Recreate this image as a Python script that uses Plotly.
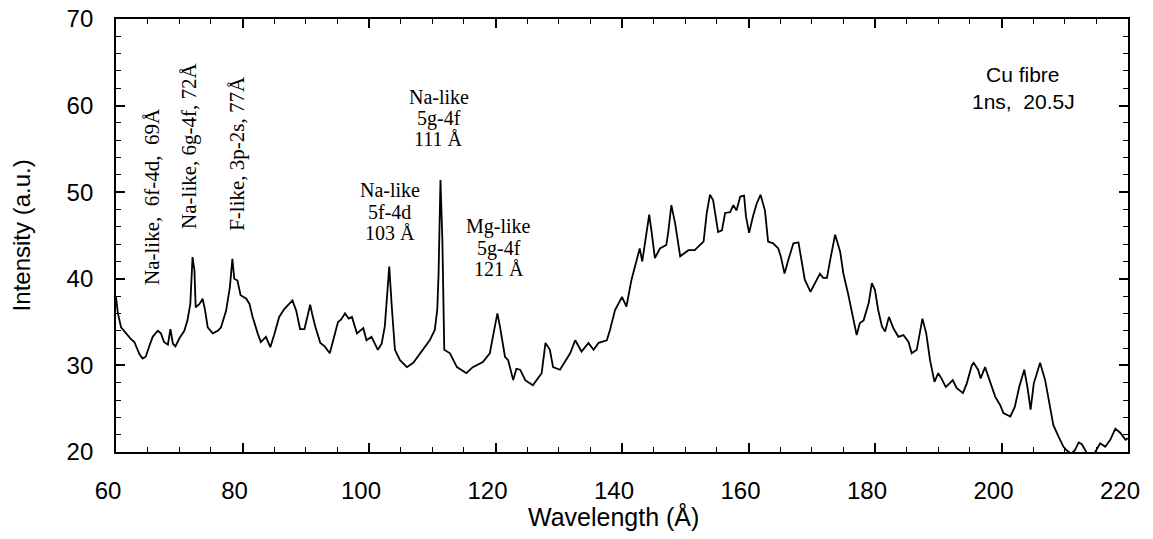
import plotly.graph_objects as go

wavelength = [
    60.0, 60.3, 60.8, 61.6, 62.3, 62.9, 63.7, 64.2, 64.7, 65.3, 65.8, 66.6, 67.1, 67.6, 68.2, 68.6,
    69.0, 69.4, 70.0, 70.8, 71.3, 71.75, 72.1, 72.4, 72.6, 73.2, 73.7, 74.1, 74.5, 75.3, 76.1, 76.6,
    77.4, 78.0, 78.4, 78.7, 79.2, 79.7, 80.6, 81.1, 81.6, 82.4, 82.9, 83.7, 84.4, 85.0, 85.8, 86.6,
    87.4, 87.9, 88.5, 89.1, 89.8, 90.3, 90.7, 91.0, 91.5, 92.3, 93.0, 93.8, 94.3, 95.1, 95.6, 96.2,
    96.8, 97.3, 98.1, 99.1, 99.6, 100.4, 101.4, 102.0, 102.5, 102.9, 103.2, 103.6, 104.1, 104.9,
    106.0, 107.0, 108.5, 109.6, 110.4, 110.8, 111.0, 111.3, 111.6, 111.9, 112.8, 113.9, 115.4,
    116.4, 118.0, 119.1, 119.9, 120.3, 120.7, 121.5, 122.0, 122.8, 123.3, 123.9, 124.7, 125.9,
    127.3, 127.9, 128.6, 129.1, 130.2, 131.0, 131.8, 132.6, 133.6, 134.7, 135.5, 136.3, 137.6,
    138.1, 138.9, 140.0, 140.7, 141.5, 142.3, 142.8, 143.2, 143.8, 144.3, 144.7, 145.2, 146.0,
    147.0, 147.3, 147.8, 148.4, 149.2, 150.5, 151.5, 152.3, 152.9, 153.4, 153.9, 154.4, 155.2,
    155.8, 156.3, 157.1, 157.6, 158.1, 158.7, 159.3, 159.6, 160.1, 160.7, 161.3, 161.9, 162.6,
    163.1, 163.9, 164.7, 165.1, 165.7, 166.3, 167.1, 167.9, 168.4, 168.9, 169.8, 170.8, 171.3,
    171.8, 172.4, 173.0, 173.7, 174.5, 175.0, 175.8, 176.6, 177.1, 177.6, 178.2, 179.0, 179.5,
    180.0, 180.5, 181.1, 181.6, 182.2, 182.9, 183.7, 184.5, 185.3, 185.8, 186.6, 187.5, 188.1,
    188.7, 189.4, 190.0, 190.5, 191.2, 192.3, 192.9, 193.9, 194.5, 195.3, 195.6, 196.3, 196.7,
    197.4, 198.2, 199.0, 199.8, 200.3, 201.4, 202.1, 202.8, 203.6, 204.1, 204.6, 205.1, 206.1,
    206.9, 207.7, 208.2, 209.0, 209.8, 210.3, 211.0, 211.6, 212.2, 212.7, 213.2, 213.8, 214.5,
    215.0, 215.6, 216.4, 217.2, 218.0, 218.8, 219.6, 220.0,
]
intensity = [
    37.9, 36.0, 34.4, 33.7, 33.1, 32.7, 31.3, 30.8, 31.0, 32.3, 33.3, 34.0, 33.7, 32.7, 32.4, 34.2,
    32.5, 32.2, 33.1, 34.0, 35.2, 37.1, 42.5, 41.0, 36.7, 37.1, 37.7, 36.3, 34.4, 33.7, 34.0, 34.4,
    36.3, 39.0, 42.3, 40.0, 39.8, 38.1, 37.7, 37.1, 35.6, 33.7, 32.7, 33.3, 32.1, 33.5, 35.6, 36.5,
    37.1, 37.5, 36.3, 34.2, 34.2, 35.8, 37.0, 36.0, 34.5, 32.6, 32.2, 31.4, 32.9, 35.0, 35.3, 36.0,
    35.4, 35.6, 33.7, 34.3, 32.9, 33.3, 31.8, 32.5, 34.5, 38.0, 41.4, 36.8, 31.8, 30.6,
    29.8, 30.3, 31.8, 32.9, 34.1, 36.5, 40.6, 51.4, 44.5, 31.8, 31.4, 29.8, 29.1,
    29.8, 30.4, 31.4, 34.5, 36.0, 34.5, 31.0, 30.6, 28.3, 29.6, 29.5, 28.3, 27.7,
    29.1, 32.6, 31.8, 29.8, 29.5, 30.5, 31.4, 32.9, 31.6, 32.6, 31.8, 32.6, 32.9,
    34.1, 36.4, 37.9, 36.8, 39.9, 42.2, 43.5, 42.0, 45.3, 47.4, 45.3, 42.4, 43.5,
    43.9, 45.3, 48.5, 46.4, 42.6, 43.3, 43.3, 43.9, 44.3, 47.6, 49.7, 49.1, 45.4,
    45.6, 47.6, 47.7, 48.5, 47.9, 49.5, 49.6, 47.2, 45.3, 47.2, 48.7, 49.7, 47.9,
    44.3, 44.1, 43.5, 42.6, 40.6, 42.2, 44.1, 44.2, 42.2, 39.9, 38.5, 39.9, 40.6,
    40.1, 40.1, 42.5, 45.1, 43.1, 40.6, 38.1, 35.4, 33.5, 34.9, 35.2, 37.2, 39.5,
    38.7, 36.4, 34.5, 33.9, 35.6, 34.3, 33.3, 33.5, 32.7, 31.4, 31.8, 35.4, 33.7,
    30.6, 28.1, 29.1, 28.5, 27.5, 28.3, 27.4, 26.8, 27.9, 30.0, 30.3, 29.5, 28.5,
    29.8, 28.1, 26.4, 25.4, 24.5, 24.1, 25.2, 27.5, 29.5, 27.5, 24.9, 27.9, 30.3,
    28.3, 25.2, 23.1, 21.8, 20.6, 20.2, 19.8, 20.2, 21.1, 20.9, 20.2, 19.5, 19.6,
    20.2, 21.0, 20.6, 21.4, 22.7, 22.2, 21.4, 21.6,
]

x_ticks = [60, 80, 100, 120, 140, 160, 180, 200, 220]
x_tick_labels = ["60", "80", "100", "120", "140", "160", "180", "200", "220"]
y_ticks = [20, 30, 40, 50, 60, 70]
x_title = "Wavelength (Å)"
y_title = "Intensity (a.u.)"

NB = "\u00a0"
vertical_labels = ["Na-like," + NB * 2 + "6f-4d," + NB * 2 + "69Å",
                   "Na-like, 6g-4f, 72Å",
                   "F-like, 3p-2s, 77Å"]
vertical_label_x = [65.7, 71.5, 79.2]
vertical_label_y = [39.0, 45.5, 45.3]

stacked_labels = [
    ["Na-like", "5f-4d", "103 Å"],
    ["Na-like", "5g-4f", "111 Å"],
    ["Mg-like", "5g-4f", "121 Å"],
]
stacked_label_x = [103.3, 111.0, 120.55]
stacked_label_y = [
    [50.25, 47.75, 45.25],
    [61.0, 58.5, 56.1],
    [46.0, 43.5, 41.1],
]

note_lines = ["Cu fibre", "1ns,  20.5J"]
note_x = 203.4
note_y = [63.6, 60.5]

fig = go.Figure()
fig.add_trace(go.Scatter(x=wavelength, y=intensity, mode="lines",
                         line=dict(color="black", width=1.8), showlegend=False))

serif = "Liberation Serif, Times New Roman, serif"
sans = "Liberation Sans, Arial, Helvetica, sans-serif"

annotations = []
for t, x, y in zip(vertical_labels, vertical_label_x, vertical_label_y):
    annotations.append(dict(x=x, y=y, xref="x", yref="y", text=t, showarrow=False,
                            textangle=-90, xanchor="center", yanchor="bottom",
                            font=dict(family=serif, size=21, color="black")))
for lines, x, ys in zip(stacked_labels, stacked_label_x, stacked_label_y):
    for t, y in zip(lines, ys):
        annotations.append(dict(x=x, y=y, xref="x", yref="y", text=t, showarrow=False,
                                xanchor="center", yanchor="middle",
                                font=dict(family=serif, size=20, color="black")))
for t, y in zip(note_lines, note_y):
    annotations.append(dict(x=note_x, y=y, xref="x", yref="y", text=t, showarrow=False,
                            xanchor="center", yanchor="middle",
                            font=dict(family=sans, size=21, color="black")))
# axis titles
annotations.append(dict(x=0.492, y=-0.148, xref="paper", yref="paper", text=x_title,
                        showarrow=False, xanchor="center", yanchor="middle",
                        font=dict(family=sans, size=25, color="black")))
annotations.append(dict(x=-0.093, y=0.5, xref="paper", yref="paper", text=y_title,
                        showarrow=False, xanchor="center", yanchor="middle", textangle=-90,
                        font=dict(family=sans, size=24, color="black")))

# the page body has an 8px default margin, so the figure is sized/offset to compensate
fig.update_layout(
    width=1137, height=523,
    margin=dict(l=108, r=17, t=11, b=79),
    paper_bgcolor="white", plot_bgcolor="white",
    font=dict(family=sans, color="black"),
    annotations=annotations,
    xaxis=dict(range=[60, 220], tickvals=x_ticks, ticktext=x_tick_labels, automargin=False,
               ticks="inside", ticklen=9, tickwidth=1.5, ticklabelshift=-8,
               tickcolor="black", showline=True, linecolor="black", linewidth=1.8,
               mirror="ticks", showgrid=False, zeroline=False,
               tickfont=dict(family=sans, size=24, color="black"), ticklabelstandoff=16,
               minor=dict(dtick=5, ticks="inside", ticklen=5, tickwidth=1.2, tickcolor="black",
                          showgrid=False)),
    yaxis=dict(range=[20, 70], tickvals=y_ticks, ticks="inside", ticklen=9, tickwidth=1.5,
               tickcolor="black", showline=True, linecolor="black", linewidth=1.8,
               mirror="ticks", showgrid=False, zeroline=False, automargin=False,
               ticklabeloverflow="allow",
               tickfont=dict(family=sans, size=24, color="black"), ticklabelstandoff=16,
               minor=dict(dtick=2, ticks="inside", ticklen=5, tickwidth=1.2, tickcolor="black",
                          showgrid=False)),
)

fig.write_html("out.html")
